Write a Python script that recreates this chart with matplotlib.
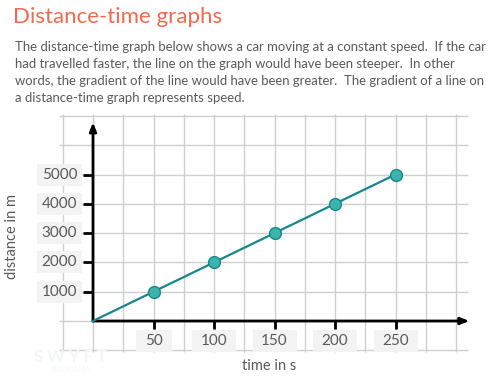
import matplotlib.pyplot as plt
from matplotlib.patches import Rectangle

# Data
times = [0, 50, 100, 150, 200, 250]          # s
distances = [0, 1000, 2000, 3000, 4000, 5000]  # m
x_ticks = [50, 100, 150, 200, 250]
y_ticks = [1000, 2000, 3000, 4000, 5000]
x_tick_labels = ["50", "100", "150", "200", "250"]
y_tick_labels = ["1000", "2000", "3000", "4000", "5000"]

title = "Distance-time graphs"
body = ("The distance-time graph below shows a car moving at a constant speed.  If the car\n"
        "had travelled faster, the line on the graph would have been steeper.  In other\n"
        "words, the gradient of the line would have been greater.  The gradient of a line on\n"
        "a distance-time graph represents speed.")

FONT = "Lato"
TEXT_GREY = "#5a5a5a"
GRID = "#cfcfcf"
BOX = "#f3f3f3"
LINE = "#18868f"
DOT = "#3bb5ac"

# pixel scale of the picture (500x376)
W, H = 500, 376
X0, Y0 = 93, 321          # origin in pixels
SX = 60.5 / 50            # px per second
SY = 29.3 / 1000          # px per metre

fig = plt.figure(figsize=(W / 100, H / 100), dpi=100)
ax = fig.add_axes([0, 0, 1, 1])
ax.set_xlim(-X0 / SX, (W - X0) / SX)
ax.set_ylim(-(H - Y0) / SY, Y0 / SY)
ax.axis("off")

# background grid, extends past the axes
gx = list(range(-25, 301, 25))
gy = list(range(-1000, 7001, 1000))
ax.vlines(gx, -1050, 7080, color=GRID, lw=1, zorder=1)
ax.hlines(gy, -28, 310, color=GRID, lw=1, zorder=1)

# axes with arrows
ax.annotate("", xy=(311, 0), xytext=(0, 0),
            arrowprops=dict(arrowstyle="-|>,head_length=0.5,head_width=0.2", color="black", lw=2,
                            shrinkA=0, shrinkB=0), zorder=4)
ax.annotate("", xy=(0, 6780), xytext=(0, 0),
            arrowprops=dict(arrowstyle="-|>,head_length=0.5,head_width=0.2", color="black", lw=2,
                            shrinkA=0, shrinkB=0), zorder=4)

# tick marks
for t in x_ticks:
    ax.plot([t, t], [0, -8 / SY], color="black", lw=2, zorder=4, solid_capstyle="butt")
for d in y_ticks:
    ax.plot([0, -10 / SX], [d, d], color="black", lw=2, zorder=4, solid_capstyle="butt")

# tick labels on light boxes
for t, lab in zip(x_ticks, x_tick_labels):
    bw = (36 if len(lab) < 3 else 44) / SX
    bh = 22 / SY
    cy = -20 / SY
    ax.add_patch(Rectangle((t - bw / 2, cy - bh / 2), bw, bh, color=BOX, lw=0, zorder=3))
    ax.text(t, cy, lab, ha="center", va="center", fontsize=11, family=FONT,
            color=TEXT_GREY, zorder=5)
for d, lab in zip(y_ticks, y_tick_labels):
    bw = 45 / SX
    bh = 22 / SY
    cx = -33.5 / SX
    ax.add_patch(Rectangle((cx - bw / 2, d - bh / 2), bw, bh, color=BOX, lw=0, zorder=3))
    ax.text(cx, d, lab, ha="center", va="center", fontsize=11, family=FONT,
            color=TEXT_GREY, zorder=5)

# the data
ax.plot(times, distances, color=LINE, lw=1.6, zorder=6)
ax.plot(times[1:], distances[1:], "o", ms=8.5, mfc=DOT, mec=LINE, mew=1, zorder=7)

# axis titles
ax.text(-81 / SX, 2900, "distance in m", rotation=90, ha="center", va="center",
        fontsize=10.5, family=FONT, color=TEXT_GREY)
fig.text(269 / W, 1 - 366 / H, "time in s", ha="center", va="center",
         fontsize=10.5, family=FONT, color=TEXT_GREY)

# faint watermark
fig.text(70 / W, 1 - 357 / H, "S W Y F T", ha="center", va="center",
         fontsize=12, family=FONT, color="#f3f6f8", weight="bold", zorder=0)
fig.text(70 / W, 1 - 369 / H, "RESOURCES", ha="center", va="center",
         fontsize=5, family=FONT, color="#f3f6f8", zorder=0)

# header text
fig.text(13 / W, 1 - 17 / H, title, ha="left", va="center", fontsize=16,
         family=FONT, color="#f06a4e")
fig.text(15 / W, 1 - 41 / H, body, ha="left", va="top", fontsize=9.45,
         family=FONT, color=TEXT_GREY, linespacing=1.5)

fig.savefig("out.png", dpi=100)
